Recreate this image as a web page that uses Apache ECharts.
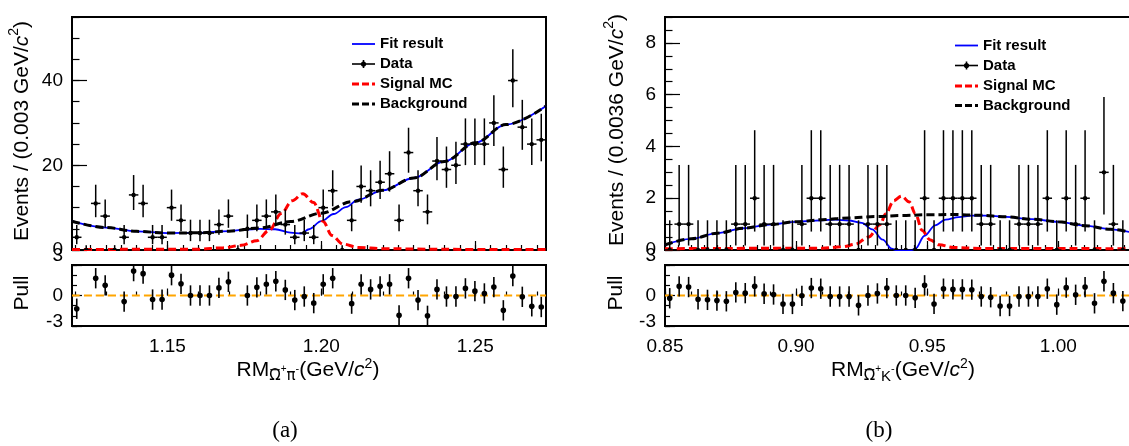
<!DOCTYPE html>
<html><head><meta charset="utf-8">
<script src="https://cdn.jsdelivr.net/npm/echarts@6/dist/echarts.min.js"></script>
<style>html,body{margin:0;padding:0;background:#fff}#c{width:1129px;height:446px}</style>
</head><body><div id="c"></div>
<script>
// ---------------- DATA ----------------
// Panel (a): RM(anti-Omega+ pi-)
const aMin = 1.119, aMax = 1.273, aNBins = 50;
const aCounts = [3,0,11,8,0,3,13,11,3,3,10,7,4,4,4,6,8,0,5,7,8,9,6,3,4,3,10,14,0,7,15,14,16,18,7,23,14,9,21,19,20,25,25,25,30,19,40,29,25,26];
const aPulls  = [-1.3,null,1.7,1.0,null,-0.6,2.4,2.15,-0.4,-0.4,2.0,1.15,0,0,0,0.75,1.35,null,0,0.8,1.1,1.4,0.55,-0.45,-0.1,-0.75,1.1,1.7,null,-0.8,1.1,0.6,0.9,1.1,-1.95,1.7,-0.45,-2.0,0.6,-0.1,-0.1,0.7,0.43,0.2,0.83,-1.46,1.92,-0.13,-1.06,-1.13];
const aBgX  = [1.119,1.13,1.14,1.15,1.16,1.17,1.18,1.19,1.20,1.21,1.22,1.23,1.24,1.25,1.26,1.273];
const aBgY  = [6.8,5.3,4.4,4.0,4.05,4.45,5.2,6.7,8.7,11.4,14.1,17.0,20.9,25.3,29.6,34.0];
const aFitX = [1.119,1.13,1.14,1.15,1.16,1.17,1.175,1.18,1.185,1.19,1.1935,1.196,1.20,1.204,1.208,1.212,1.22,1.23,1.24,1.25,1.26,1.273];
const aFitY = [6.8,5.3,4.4,4.0,4.05,4.45,4.8,5.0,4.9,4.1,3.9,4.9,6.8,8.5,10.1,11.9,14.1,17.0,20.9,25.3,29.6,34.0];
const aSigX = [1.119,1.16,1.168,1.174,1.179,1.183,1.187,1.1905,1.194,1.1975,1.2005,1.2035,1.207,1.212,1.22,1.24,1.273];
const aSigY = [0.1,0.2,0.5,1.1,2.2,4.6,8.6,11.6,13.3,11.2,6.8,3.4,1.4,0.6,0.3,0.15,0.1];
const aXLabels = [1.15,1.20,1.25];
const aYLabels = [0,20,40];

// Panel (b): RM(anti-Omega+ K-)
const bMin = 0.85, bMax = 1.03, bNBins = 50;
const bCounts = [0,1,1,0,0,0,0,1,1,2,1,1,0,0,1,2,2,1,1,1,0,1,1,1,0,0,0,2,0,2,2,2,2,1,1,0,0,1,1,1,2,0,2,1,2,0,3,1,0];
const bPulls  = [-0.27,0.9,0.83,-0.37,-0.43,-0.5,-0.57,0.3,0.23,0.9,0.17,0.1,-0.83,-0.83,-0.03,0.73,0.67,-0.1,-0.1,-0.1,-0.97,0,0.2,0.73,0,0,-0.23,1.0,-0.83,0.67,0.6,0.6,0.57,-0.1,-0.17,-1.03,-1.03,-0.1,-0.1,-0.1,0.67,-0.9,0.77,0.07,0.83,-0.77,1.4,0.23,-0.55];
const bBgX  = [0.85,0.86,0.87,0.88,0.89,0.90,0.91,0.92,0.93,0.94,0.95,0.96,0.97,0.98,0.99,1.00,1.01,1.02,1.03];
const bBgY  = [0.2,0.43,0.65,0.84,0.98,1.09,1.17,1.24,1.29,1.33,1.36,1.37,1.34,1.28,1.19,1.09,0.94,0.8,0.62];
const bFitX = [0.85,0.86,0.87,0.88,0.89,0.90,0.905,0.91,0.915,0.92,0.925,0.929,0.933,0.9365,0.938,0.944,0.9455,0.949,0.953,0.957,0.962,0.967,0.972,0.98,0.99,1.00,1.01,1.02,1.03];
const bFitY = [0.2,0.43,0.65,0.84,0.98,1.09,1.12,1.15,1.17,1.14,1.05,0.8,0.4,0.05,0,0,0.05,0.55,0.95,1.17,1.27,1.33,1.33,1.28,1.19,1.09,0.94,0.8,0.62];
const bSigX = [0.85,0.91,0.918,0.9225,0.9276,0.932,0.9342,0.9372,0.9402,0.9432,0.9455,0.9481,0.951,0.9545,0.96,0.97,1.03];
const bSigY = [0.05,0.07,0.13,0.22,0.5,0.98,1.4,1.9,2.08,1.85,1.4,0.75,0.4,0.2,0.1,0.06,0.05];
const bXLabels = [0.85,0.90,0.95,1.00];
const bYLabels = [0,2,4,6,8];

const pullLabels = [-3,0,3];

// ---------------- HELPERS ----------------
const FONT = 'Liberation Sans';
function range(a,b,s){const r=[];for(let k=0;a+k*s<=b+1e-9;k++)r.push(+(a+k*s).toFixed(5));return r;}
function poissonErr(n){
  if(n===0) return [0,1.148];
  const lo=n*Math.pow(1-1/(9*n)-1/(3*Math.sqrt(n)),3);
  const m=n+1, hi=m*Math.pow(1-1/(9*m)+1/(3*Math.sqrt(m)),3);
  return [n-lo,hi-n];
}
function xAx(gi,min,max,ticks,len,labels,dec){
  return {type:'value',gridIndex:gi,min,max,position:'bottom',
    axisLine:{show:false},splitLine:{show:false},
    axisTick:{show:true,inside:true,length:len,customValues:ticks,lineStyle:{color:'#000',width:1.2}},
    axisLabel:labels?{show:true,customValues:labels,formatter:v=>(+v).toFixed(dec),fontSize:19,fontFamily:FONT,color:'#000',margin:11}:{show:false}};
}
function yAx(gi,min,max,ticks,len,labels,pull){
  const lab=labels?{show:true,customValues:labels,fontSize:19,fontFamily:FONT,color:'#000',margin:9,
    formatter:v=>{const s=String(Math.round(v));if(!pull)return s;if(Math.round(v)===3)return '{t|'+s+'}';if(Math.round(v)===-3)return '{b|'+s+'}';return s;},
    rich:{t:{fontSize:19,fontFamily:FONT,color:'#000',padding:[0,0,18,0]},b:{fontSize:19,fontFamily:FONT,color:'#000',padding:[0,0,8,0]}}}:{show:false};
  return {type:'value',gridIndex:gi,min,max,position:'left',
    axisLine:{show:false},splitLine:{show:false},
    axisTick:{show:true,inside:true,length:len,customValues:ticks,lineStyle:{color:'#000',width:1.2}},
    axisLabel:lab};
}
function curve(xi,yi,xs,ys,color,width,dash,z){
  return {type:'line',xAxisIndex:xi,yAxisIndex:yi,data:xs.map((x,i)=>[x,ys[i]]),
    symbol:'none',smooth:0.35,smoothMonotone:'x',clip:true,silent:true,z,
    lineStyle:{color,width,type:dash||'solid'}};
}
function dataSeries(xi,yi,lo,hiEdge,nb,counts){
  const w=(hiEdge-lo)/nb;
  const data=counts.map((n,i)=>{const e=poissonErr(n);return [lo+(i+0.5)*w,n,n-e[0],n+e[1]];});
  return {type:'custom',xAxisIndex:xi,yAxisIndex:yi,data,clip:true,z:10,silent:true,
    renderItem:(p,api)=>{
      const x=api.value(0),y=api.value(1);
      const c=api.coord([x,y]),cl=api.coord([x,api.value(2)]),ch=api.coord([x,api.value(3)]);
      const hw=api.size([w,0])[0]/2;
      return {type:'group',children:[
        {type:'line',shape:{x1:c[0],y1:cl[1],x2:c[0],y2:ch[1]},style:{stroke:'#000',lineWidth:1.5}},
        {type:'line',shape:{x1:c[0]-hw,y1:c[1],x2:c[0]+hw,y2:c[1]},style:{stroke:'#000',lineWidth:1.5}},
        {type:'circle',shape:{cx:c[0],cy:c[1],r:2.2},style:{fill:'#000'}}]};
    }};
}
function pullSeries(xi,yi,lo,hiEdge,nb,pulls){
  const w=(hiEdge-lo)/nb;
  const data=[];pulls.forEach((v,i)=>{if(v!==null)data.push([lo+(i+0.5)*w,v]);});
  return {type:'custom',xAxisIndex:xi,yAxisIndex:yi,data,clip:true,z:10,silent:true,
    renderItem:(p,api)=>{
      const x=api.value(0),y=api.value(1);
      const c=api.coord([x,y]),cl=api.coord([x,y-1]),ch=api.coord([x,y+1]);
      return {type:'group',children:[
        {type:'line',shape:{x1:c[0],y1:cl[1],x2:c[0],y2:ch[1]},style:{stroke:'#000',lineWidth:1.6}},
        {type:'circle',shape:{cx:c[0],cy:c[1],r:2.8},style:{fill:'#000'}}]};
    }};
}
const DASH=[8,4];
const grids=[
  {left:72,top:17,width:474,height:233},
  {left:72,top:265,width:474,height:61},
  {left:665,top:17,width:472,height:233},
  {left:665,top:265,width:472,height:61}
].map(g=>Object.assign(g,{show:true,borderColor:'#000',borderWidth:2,backgroundColor:'transparent',containLabel:false,outerBoundsMode:'none'}));

const xAxis=[
  xAx(0,aMin,aMax,aXLabels,9,null),
  xAx(0,aMin,aMax,range(1.12,1.27,0.005),5,null),
  xAx(1,aMin,aMax,aXLabels,7,aXLabels,2),
  xAx(1,aMin,aMax,range(1.12,1.27,0.01),4,null),
  xAx(2,bMin,bMax,bXLabels,9,null),
  xAx(2,bMin,bMax,range(bMin,bMax,0.005),5,null),
  xAx(3,bMin,bMax,bXLabels,7,bXLabels,2),
  xAx(3,bMin,bMax,range(bMin,bMax,0.01),4,null)
];
const yAxis=[
  yAx(0,0,55,aYLabels,15,aYLabels),
  yAx(0,0,55,range(0,55,5),7.5,null),
  yAx(1,-3,3,pullLabels,10,pullLabels,true),
  yAx(1,-3,3,range(-3,3,1),5,null),
  yAx(2,0,9,bYLabels,15,bYLabels),
  yAx(2,0,9,range(0,9,0.5),7.5,null),
  yAx(3,-3,3,pullLabels,10,pullLabels,true),
  yAx(3,-3,3,range(-3,3,1),5,null)
];
const series=[
  curve(0,0,aFitX,aFitY,'#0000ff',1.8,'solid',2),
  curve(0,0,aSigX,aSigY,'#ff0000',3,DASH,3),
  curve(0,0,aBgX,aBgY,'#000000',3,DASH,4),
  dataSeries(0,0,aMin,aMax,aNBins,aCounts),
  curve(2,2,[aMin,aMax],[0,0],'#ffa500',2,DASH,3),
  pullSeries(2,2,aMin,aMax,aNBins,aPulls),
  curve(4,4,bFitX,bFitY,'#0000ff',1.8,'solid',2),
  curve(4,4,bSigX,bSigY,'#ff0000',3,DASH,3),
  curve(4,4,bBgX,bBgY,'#000000',3,DASH,4),
  dataSeries(4,4,bMin,bMax,bNBins,bCounts),
  curve(6,6,[bMin,bMax],[0,0],'#ffa500',2,DASH,3),
  pullSeries(6,6,bMin,bMax,bNBins,bPulls)
];

// ---------------- TITLES / LEGENDS ----------------
const richBase={
  m:{fontSize:21,fontFamily:FONT,lineHeight:30,fill:'#000'},
  i:{fontSize:21,fontFamily:FONT,fontStyle:'italic',lineHeight:30},
  sup:{fontSize:14,fontFamily:FONT,lineHeight:16,verticalAlign:'top'}
};
function txt(x,y,text){return {type:'text',x,y,silent:true,style:{text,fill:'#000',align:'center',verticalAlign:'middle',rich:richBase}};}
function ytitle(x,y,text){const t=txt(x,y,text);t.rotation=Math.PI/2;return t;}

// x-axis title built piece by piece (sub/superscripts, overline on Omega)
const mctx=document.createElement('canvas').getContext('2d');
function mw(size,style,fam,t){mctx.font=style+' '+size+'px "'+fam+'"';return mctx.measureText(t).width;}
function xtitle(cx,cy,kaon){
  const pieces=[
    {t:'RM',f:21,dy:0},
    {t:'\u03A9',f:15,dy:6.5,bar:true,fam:'DejaVu Sans'},
    {t:'+',f:10,dy:-1},
    {t:kaon?'K':'\u03C0',f:15,dy:6.5,fam:kaon?FONT:'DejaVu Sans'},
    {t:'-',f:11,dy:-1},
    {t:'(GeV/',f:21,dy:0},
    {t:'c',f:21,dy:0,it:true},
    {t:'2',f:14,dy:-6},
    {t:')',f:21,dy:0}
  ];
  pieces.forEach(p=>{p.fam=p.fam||FONT;p.w=mw(p.f,p.it?'italic':'normal',p.fam,p.t);});
  const total=pieces.reduce((s,p)=>s+p.w,0);
  let x=cx-total/2;const els=[];
  pieces.forEach(p=>{
    els.push({type:'text',x,y:cy+p.dy,silent:true,style:{text:p.t,fill:'#000',fontSize:p.f,fontFamily:p.fam,fontStyle:p.it?'italic':'normal',align:'left',verticalAlign:'middle'}});
    if(p.bar) els.push({type:'line',silent:true,shape:{x1:x+1,y1:cy+p.dy-6.8,x2:x+p.w-1,y2:cy+p.dy-6.8},style:{stroke:'#000',lineWidth:1.1}});
    x+=p.w;
  });
  return els;
}
function legend(x0,x1,tx,rows){
  const els=[];
  const [r1,r2,r3,r4]=rows, xm=(x0+x1)/2;
  els.push({type:'line',shape:{x1:x0,y1:r1,x2:x1,y2:r1},style:{stroke:'#0000ff',lineWidth:1.8},silent:true});
  els.push({type:'line',shape:{x1:x0,y1:r2,x2:x1,y2:r2},style:{stroke:'#000',lineWidth:1.6},silent:true});
  els.push({type:'line',shape:{x1:xm,y1:r2-4,x2:xm,y2:r2+4},style:{stroke:'#000',lineWidth:1.6},silent:true});
  els.push({type:'circle',shape:{cx:xm,cy:r2,r:2.6},style:{fill:'#000'},silent:true});
  els.push({type:'line',shape:{x1:x0,y1:r3,x2:x1,y2:r3},style:{stroke:'#ff0000',lineWidth:3,lineDash:[7,3]},silent:true});
  els.push({type:'line',shape:{x1:x0,y1:r4,x2:x1,y2:r4},style:{stroke:'#000',lineWidth:3,lineDash:[7,3]},silent:true});
  ['Fit result','Data','Signal MC','Background'].forEach((s,k)=>{
    els.push({type:'text',x:tx,y:rows[k],silent:true,style:{text:s,fill:'#000',fontSize:15,fontWeight:'bold',fontFamily:FONT,align:'left',verticalAlign:'middle'}});
  });
  return els;
}
const graphic=[
  ytitle(22,131,'{m|Events / (0.003 GeV/}{i|c}{sup|2}{m|)}'),
  ytitle(617,130,'{m|Events / (0.0036 GeV/}{i|c}{sup|2}{m|)}'),
  ytitle(22,293,'{m|Pull}'),
  ytitle(616,293,'{m|Pull}'),
  {type:'text',x:285,y:431,silent:true,style:{text:'(a)',fill:'#000',fontSize:23,fontFamily:'Liberation Serif',align:'center',verticalAlign:'middle'}},
  {type:'text',x:879,y:431,silent:true,style:{text:'(b)',fill:'#000',fontSize:23,fontFamily:'Liberation Serif',align:'center',verticalAlign:'middle'}}
].concat(xtitle(308,370,false)).concat(xtitle(903,370,true))
 .concat(legend(352,375,380,[44,64,84,104])).concat(legend(955,978,983,[45.5,65.5,86,105.5]));

const chart=echarts.init(document.getElementById('c'),null,{renderer:'canvas'});
chart.setOption({animation:false,backgroundColor:'#fff',grid:grids,xAxis,yAxis,series,graphic});
</script></body></html>
